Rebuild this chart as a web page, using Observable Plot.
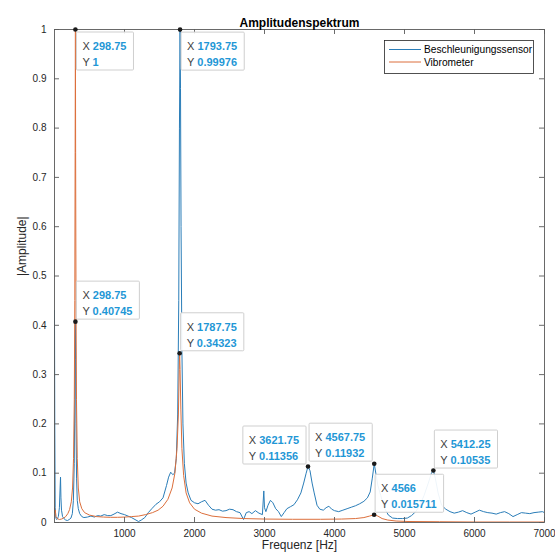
<!DOCTYPE html>
<html><head><meta charset="utf-8">
<script src="https://cdn.jsdelivr.net/npm/d3@7"></script>
<script src="https://cdn.jsdelivr.net/npm/@observablehq/plot@0.6"></script>
<style>
body{margin:0;background:#fff}
svg{font-family:"Liberation Sans",Arial,Helvetica,sans-serif}
</style>
</head><body><div id="chart"></div>
<script>
// ---- Data ----
const accelFreq = [0,4,10,20,35,55,70,80,86,92,100,115,135,160,185,210,235,255,270,282,290,295,298.75,302,307,315,325,340,360,390,420,470,520,570,615,660,710,760,805,850,900,950,1000,1050,1100,1150,1200,1240,1290,1340,1390,1450,1500,1550,1600,1630,1660,1690,1715,1740,1760,1775,1785,1793.75,1800,1808,1820,1835,1855,1880,1910,1950,2000,2050,2100,2150,2200,2250,2300,2350,2400,2450,2500,2550,2600,2650,2700,2740,2780,2820,2870,2920,2970,2990,3000,3020,3050,3085,3120,3160,3200,3240,3280,3320,3370,3420,3470,3520,3560,3595,3621.75,3650,3680,3710,3750,3790,3840,3880,3920,3960,4000,4060,4120,4180,4240,4300,4360,4420,4470,4510,4540,4567.75,4590,4620,4660,4710,4770,4830,4900,4970,5040,5100,5160,5220,5280,5340,5385,5412.25,5440,5480,5530,5590,5650,5710,5770,5830,5890,5950,6010,6070,6130,6190,6250,6310,6370,6430,6490,6550,6610,6670,6730,6790,6850,6910,6970,7000];
const accelAmp = [0.43,0.2,0.03,0.008,0.006,0.012,0.03,0.07,0.092,0.05,0.025,0.012,0.008,0.005,0.004,0.006,0.009,0.018,0.045,0.12,0.25,0.36,0.40745,0.33,0.2,0.09,0.045,0.028,0.018,0.012,0.01,0.011,0.013,0.011,0.014,0.013,0.016,0.014,0.014,0.017,0.021,0.018,0.016,0.013,0.01,0.006,0.002,0.005,0.01,0.02,0.028,0.037,0.042,0.05,0.075,0.092,0.102,0.097,0.1,0.13,0.22,0.45,0.8,0.99976,0.88,0.6,0.35,0.2,0.12,0.08,0.06,0.045,0.04,0.038,0.042,0.045,0.035,0.027,0.025,0.026,0.023,0.024,0.027,0.026,0.022,0.02,0.006,0.02,0.022,0.018,0.024,0.019,0.016,0.064,0.03,0.022,0.035,0.045,0.04,0.028,0.022,0.012,0.02,0.028,0.032,0.036,0.046,0.06,0.08,0.1,0.11356,0.105,0.08,0.06,0.035,0.027,0.025,0.03,0.033,0.027,0.024,0.022,0.025,0.028,0.031,0.034,0.038,0.043,0.05,0.062,0.09,0.11932,0.1,0.075,0.055,0.03,0.015,0.009,0.008,0.008,0.009,0.014,0.022,0.035,0.055,0.08,0.1,0.10535,0.09,0.06,0.035,0.027,0.022,0.019,0.021,0.024,0.02,0.017,0.021,0.025,0.022,0.02,0.019,0.017,0.02,0.022,0.018,0.012,0.016,0.02,0.019,0.018,0.02,0.021,0.022,0.02];

const vibroFreq = [0,5,12,20,40,70,100,130,160,190,215,240,258,272,283,290,295,298.75,302,307,314,325,340,360,390,430,500,600,700,800,900,1000,1100,1200,1300,1400,1480,1550,1620,1680,1720,1750,1770,1782,1787.75,1794,1805,1820,1845,1880,1930,2000,2100,2250,2450,2700,3000,3400,3800,4100,4300,4420,4500,4566,4620,4680,4760,4880,5050,5500,6000,6500,7000];
const vibroAmp = [0.03,0.02,0.025,0.012,0.008,0.006,0.007,0.009,0.012,0.018,0.026,0.042,0.07,0.13,0.25,0.45,0.75,1.0,0.75,0.45,0.25,0.13,0.07,0.042,0.028,0.02,0.015,0.012,0.011,0.0105,0.0105,0.011,0.012,0.013,0.016,0.02,0.025,0.033,0.047,0.07,0.1,0.15,0.22,0.31,0.34323,0.31,0.23,0.15,0.095,0.06,0.04,0.027,0.019,0.013,0.01,0.008,0.007,0.0065,0.0065,0.007,0.008,0.01,0.013,0.015711,0.013,0.008,0.005,0.003,0.002,0.0015,0.001,0.001,0.001];

const seriesNames = ["Beschleunigungssensor", "Vibrometer"];
const xTicks = [1000,2000,3000,4000,5000,6000,7000];
const yTicks = [0,0.1,0.2,0.3,0.4,0.5,0.6,0.7,0.8,0.9,1];
const yTickLabels = ["0","0.1","0.2","0.3","0.4","0.5","0.6","0.7","0.8","0.9","1"];

const tipFreq = [298.75,1793.75,298.75,1787.75,3621.75,4567.75,4566,5412.25];
const tipAmp = [1,0.99976,0.40745,0.34323,0.11356,0.11932,0.015711,0.10535];
const tipXText = ["298.75","1793.75","298.75","1787.75","3621.75","4567.75","4566","5412.25"];
const tipYText = ["1","0.99976","0.40745","0.34323","0.11356","0.11932","0.015711","0.10535"];

const titleText = "Amplitudenspektrum";
const xLabel = "Frequenz [Hz]";
const yLabel = "|Amplitude|";

// ---- Build tables ----
const accel = accelFreq.map((f, i) => ({f, a: accelAmp[i]}));
const vibro = vibroFreq.map((f, i) => ({f, a: vibroAmp[i]}));
const tips = tipFreq.map((f, i) => ({f, a: tipAmp[i], xs: tipXText[i], ys: tipYText[i]}));

const W = 555, H = 555, mL = 54, mR = 11, mT = 29, mB = 33;
const innerW = W - mL - mR, innerH = H - mT - mB;
const blue = "#2a7db8", orange = "#dc6f3c", axisCol = "#262626", frameCol = "#5a5a5a";

const plot = Plot.plot({
  width: W, height: H,
  marginLeft: mL, marginRight: mR, marginTop: mT, marginBottom: mB,
  style: {fontFamily: '"Liberation Sans", Arial, sans-serif', fontSize: "10px", color: axisCol, background: "white", overflow: "visible"},
  x: {domain: [0, 7000]},
  y: {domain: [0, 1]},
  marks: [
    Plot.line(accel, {x: "f", y: "a", stroke: blue, strokeWidth: 1, clip: true}),
    Plot.line(vibro, {x: "f", y: "a", stroke: orange, strokeWidth: 1, clip: true}),
    Plot.frame({stroke: frameCol, strokeWidth: 0.9}),
    Plot.tickX(xTicks, {x: d => d, insetTop: innerH - 5, stroke: frameCol, strokeWidth: 0.9}),
    Plot.tickX(xTicks, {x: d => d, insetBottom: innerH - 5, stroke: frameCol, strokeWidth: 0.9}),
    Plot.tickY(yTicks, {y: d => d, insetRight: innerW - 5, stroke: frameCol, strokeWidth: 0.9}),
    Plot.tickY(yTicks, {y: d => d, insetLeft: innerW - 5, stroke: frameCol, strokeWidth: 0.9}),
    Plot.axisX({ticks: xTicks, tickSize: 0, tickPadding: 7, label: null, tickFormat: d => String(d)}),
    Plot.axisY({ticks: yTicks, tickSize: 0, tickPadding: 8, label: null, tickFormat: d => yTickLabels[yTicks.indexOf(d)]}),
    Plot.dot(tips, {x: "f", y: "a", r: 2.3, fill: "#1a1a1a", stroke: "none"}),
    Plot.text([titleText], {frameAnchor: "top", dy: -11, fontSize: 12, fontWeight: "bold", fill: "black"}),
    Plot.text([xLabel], {frameAnchor: "bottom", dy: 26, fontSize: 12, fill: axisCol}),
    Plot.text([yLabel], {frameAnchor: "left", dx: -32, rotate: -90, fontSize: 12, fill: axisCol})
  ]
});

document.getElementById("chart").appendChild(plot);

// ---- Data tips (positioned through the plot's scales) ----
const sx = plot.scale("x"), sy = plot.scale("y");
const svg = d3.select(plot);
const tipPlace = ["se","se","ne","ne","nw","nw","ne","ne"];
const tipLayer = svg.append("g").attr("font-size", 11).attr("text-anchor", "start");
tips.forEach((t, i) => {
  const px = sx.apply(t.f), py = sy.apply(t.a);
  const g = tipLayer.append("g");
  const rect = g.append("rect");
  const l1 = g.append("text").attr("text-anchor", "start");
  l1.append("tspan").attr("fill", "#404040").text("X ");
  l1.append("tspan").attr("fill", "#1f97d6").attr("font-weight", "bold").text(t.xs);
  const l2 = g.append("text").attr("text-anchor", "start");
  l2.append("tspan").attr("fill", "#404040").text("Y ");
  l2.append("tspan").attr("fill", "#1f97d6").attr("font-weight", "bold").text(t.ys);
  const tw = Math.max(l1.node().getComputedTextLength(), l2.node().getComputedTextLength());
  const bw = tw + 13, bh = 38;
  const p = tipPlace[i];
  const left = p.includes("w") ? px - 1.5 - bw : px + 1.5;
  const top = p.includes("n") ? py - 2 - bh : py + 3;
  rect.attr("x", left).attr("y", top).attr("width", bw).attr("height", bh)
    .attr("fill", "white").attr("fill-opacity", 0.92)
    .attr("stroke", "#cfcfcf").attr("stroke-width", 1).attr("rx", 1);
  l1.attr("x", left + 6).attr("y", top + 18);
  l2.attr("x", left + 6).attr("y", top + 34);
});

// ---- Legend ----
const leg = svg.append("g").attr("font-size", 10.2).attr("text-anchor", "start");
leg.append("rect").attr("x", 384.5).attr("y", 40.5).attr("width", 149).attr("height", 33)
  .attr("fill", "white").attr("stroke", axisCol).attr("stroke-width", 0.8);
[blue, orange].forEach((c, i) => {
  const yy = 49.5 + i * 12.5;
  leg.append("line").attr("x1", 389).attr("x2", 421).attr("y1", yy).attr("y2", yy)
    .attr("stroke", c).attr("stroke-width", 1);
  leg.append("text").attr("x", 424).attr("y", yy + 3.6).attr("fill", "black").attr("text-anchor", "start").text(seriesNames[i]);
});
</script>
</body></html>
